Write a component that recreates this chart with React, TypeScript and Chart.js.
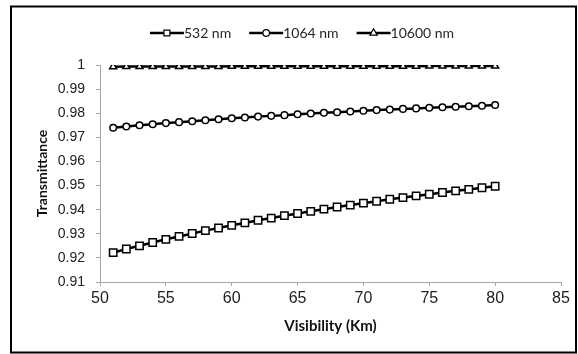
import React, { useEffect, useRef } from "react";
import { Chart, registerables } from "chart.js";

Chart.register(...registerables);

const visibility = [51, 52, 53, 54, 55, 56, 57, 58, 59, 60, 61, 62, 63, 64, 65, 66, 67, 68, 69, 70, 71, 72, 73, 74, 75, 76, 77, 78, 79, 80];

const t532 = [0.9222, 0.9237, 0.925, 0.9264, 0.9277, 0.9289, 0.9301, 0.9313, 0.9324, 0.9335, 0.9345, 0.9356, 0.9365, 0.9375, 0.9384, 0.9393, 0.9402, 0.9411, 0.9419, 0.9427, 0.9435, 0.9443, 0.945, 0.9457, 0.9464, 0.9471, 0.9478, 0.9484, 0.9491, 0.9497];

const t1064 = [0.974, 0.9745, 0.975, 0.9754, 0.9759, 0.9763, 0.9767, 0.9771, 0.9775, 0.9779, 0.9782, 0.9786, 0.9789, 0.9792, 0.9796, 0.9799, 0.9802, 0.9804, 0.9807, 0.981, 0.9813, 0.9815, 0.9818, 0.982, 0.9823, 0.9825, 0.9827, 0.9829, 0.9831, 0.9834];

const t10600 = [0.99932, 0.99934, 0.99935, 0.99936, 0.99937, 0.99938, 0.99939, 0.99941, 0.99942, 0.99943, 0.99943, 0.99944, 0.99945, 0.99946, 0.99947, 0.99948, 0.99949, 0.99949, 0.9995, 0.99951, 0.99951, 0.99952, 0.99953, 0.99953, 0.99954, 0.99955, 0.99955, 0.99956, 0.99956, 0.99957];

const seriesNames = ["532 nm", "1064 nm", "10600 nm"];
const seriesStyles = ["rect", "circle", "triangle"];

const xRange = [50, 85];
const xStep = 5;
const yRange = [0.91, 1];
const yStep = 0.01;

const xTitle = "Visibility (Km)";
const yTitle = "Transmittance";

function drawMarker(ctx: CanvasRenderingContext2D, style: string, x: number, y: number, r: number) {
  ctx.beginPath();
  if (style === "rect") {
    const s = r * Math.SQRT1_2;
    ctx.rect(x - s, y - s, 2 * s, 2 * s);
  } else if (style === "circle") {
    ctx.arc(x, y, r, 0, Math.PI * 2);
  } else {
    let rad = 0;
    ctx.moveTo(x + Math.sin(rad) * r, y - Math.cos(rad) * r);
    rad += (2 * Math.PI) / 3;
    ctx.lineTo(x + Math.sin(rad) * r, y - Math.cos(rad) * r);
    rad += (2 * Math.PI) / 3;
    ctx.lineTo(x + Math.sin(rad) * r, y - Math.cos(rad) * r);
    ctx.closePath();
  }
  ctx.fill();
  ctx.stroke();
}

const framePlugin = {
  id: "frameAndLegend",
  afterDraw(chart: any) {
    const ctx: CanvasRenderingContext2D = chart.ctx;
    ctx.save();
    // outer frame
    ctx.strokeStyle = "#000";
    ctx.lineWidth = 2;
    ctx.strokeRect(11, 6.5, 565, 346);

    // legend
    ctx.font = "14px Lato";
    const lineLen = 34;
    const gap = 18;
    const widths = seriesNames.map((n) => lineLen + ctx.measureText(n).width);
    const total = widths.reduce((a, b) => a + b, 0) + gap * (seriesNames.length - 1);
    let x = 302 - total / 2;
    const y = 33;
    seriesNames.forEach((name, i) => {
      ctx.strokeStyle = "#000";
      ctx.lineWidth = 2.7;
      ctx.beginPath();
      ctx.moveTo(x, y);
      ctx.lineTo(x + lineLen, y);
      ctx.stroke();
      ctx.fillStyle = "#fff";
      ctx.lineWidth = 1.2;
      drawMarker(ctx, seriesStyles[i], x + lineLen / 2, y, seriesStyles[i] === "circle" ? 3.3 : 4.2);
      ctx.fillStyle = "#262626";
      ctx.textBaseline = "middle";
      ctx.textAlign = "left";
      ctx.fillText(name, x + lineLen, y + 0.5);
      x += widths[i] + gap;
    });
    ctx.restore();
  },
};

export default function App() {
  const ref = useRef<HTMLCanvasElement | null>(null);

  useEffect(() => {
    if (!ref.current) return;
    const mk = (vals: number[]) => visibility.map((v, i) => ({ x: v, y: vals[i] }));
    const common = {
      borderColor: "#000",
      borderWidth: 2.5,
      pointBackgroundColor: "#fff",
      pointBorderColor: "#000",
      pointBorderWidth: 1.5,
      showLine: true,
      fill: false,
      tension: 0,
    };
    const chart = new Chart(ref.current, {
      type: "scatter",
      data: {
        datasets: [
          { ...common, label: seriesNames[0], data: mk(t532), pointStyle: "rect", pointRadius: 5.2 },
          { ...common, label: seriesNames[1], data: mk(t1064), pointStyle: "circle", pointRadius: 3.3 },
          { ...common, label: seriesNames[2], data: mk(t10600), pointStyle: "triangle", pointRadius: 4 },
        ],
      },
      options: {
        animation: false,
        responsive: false,
        devicePixelRatio: 1,
        layout: { padding: { top: 65, left: 0, right: 17, bottom: 0 } },
        plugins: { legend: { display: false }, tooltip: { enabled: false } },
        scales: {
          x: {
            type: "linear",
            min: xRange[0],
            max: xRange[1],
            ticks: {
              stepSize: xStep,
              font: { family: "Liberation Sans", size: 16 },
              color: "#222",
              padding: 3,
              maxRotation: 0,
            },
            grid: { drawOnChartArea: false, tickLength: 4, color: "#a6a6a6" },
            border: { color: "#a6a6a6", width: 1 },
            title: {
              display: true,
              text: xTitle,
              font: { family: "Lato", size: 15, weight: "bold" },
              color: "#111",
              padding: { top: 0, bottom: 19 },
            },
            afterFit: (s: any) => {
              s.height = 72;
            },
          },
          y: {
            type: "linear",
            min: yRange[0],
            max: yRange[1],
            ticks: {
              stepSize: yStep,
              font: { family: "Liberation Sans", size: 14 },
              color: "#222",
              padding: 11,
              callback: (v: any) => String(Math.round(Number(v) * 100) / 100),
            },
            grid: { drawOnChartArea: false, tickLength: 4, color: "#a6a6a6" },
            border: { color: "#a6a6a6", width: 1 },
            title: {
              display: true,
              text: yTitle,
              font: { family: "Lato", size: 14, weight: "bold" },
              color: "#111",
              padding: { top: 33.6, bottom: 0 },
            },
            afterFit: (s: any) => {
              s.width = 100;
            },
          },
        },
      } as any,
      plugins: [framePlugin],
    });
    return () => chart.destroy();
  }, []);

  return (
    <div style={{ position: "absolute", left: 0, top: 0, width: 578, height: 354, background: "#fff" }}>
      <canvas ref={ref} width={578} height={354} style={{ display: "block", width: 578, height: 354 }} />
    </div>
  );
}
